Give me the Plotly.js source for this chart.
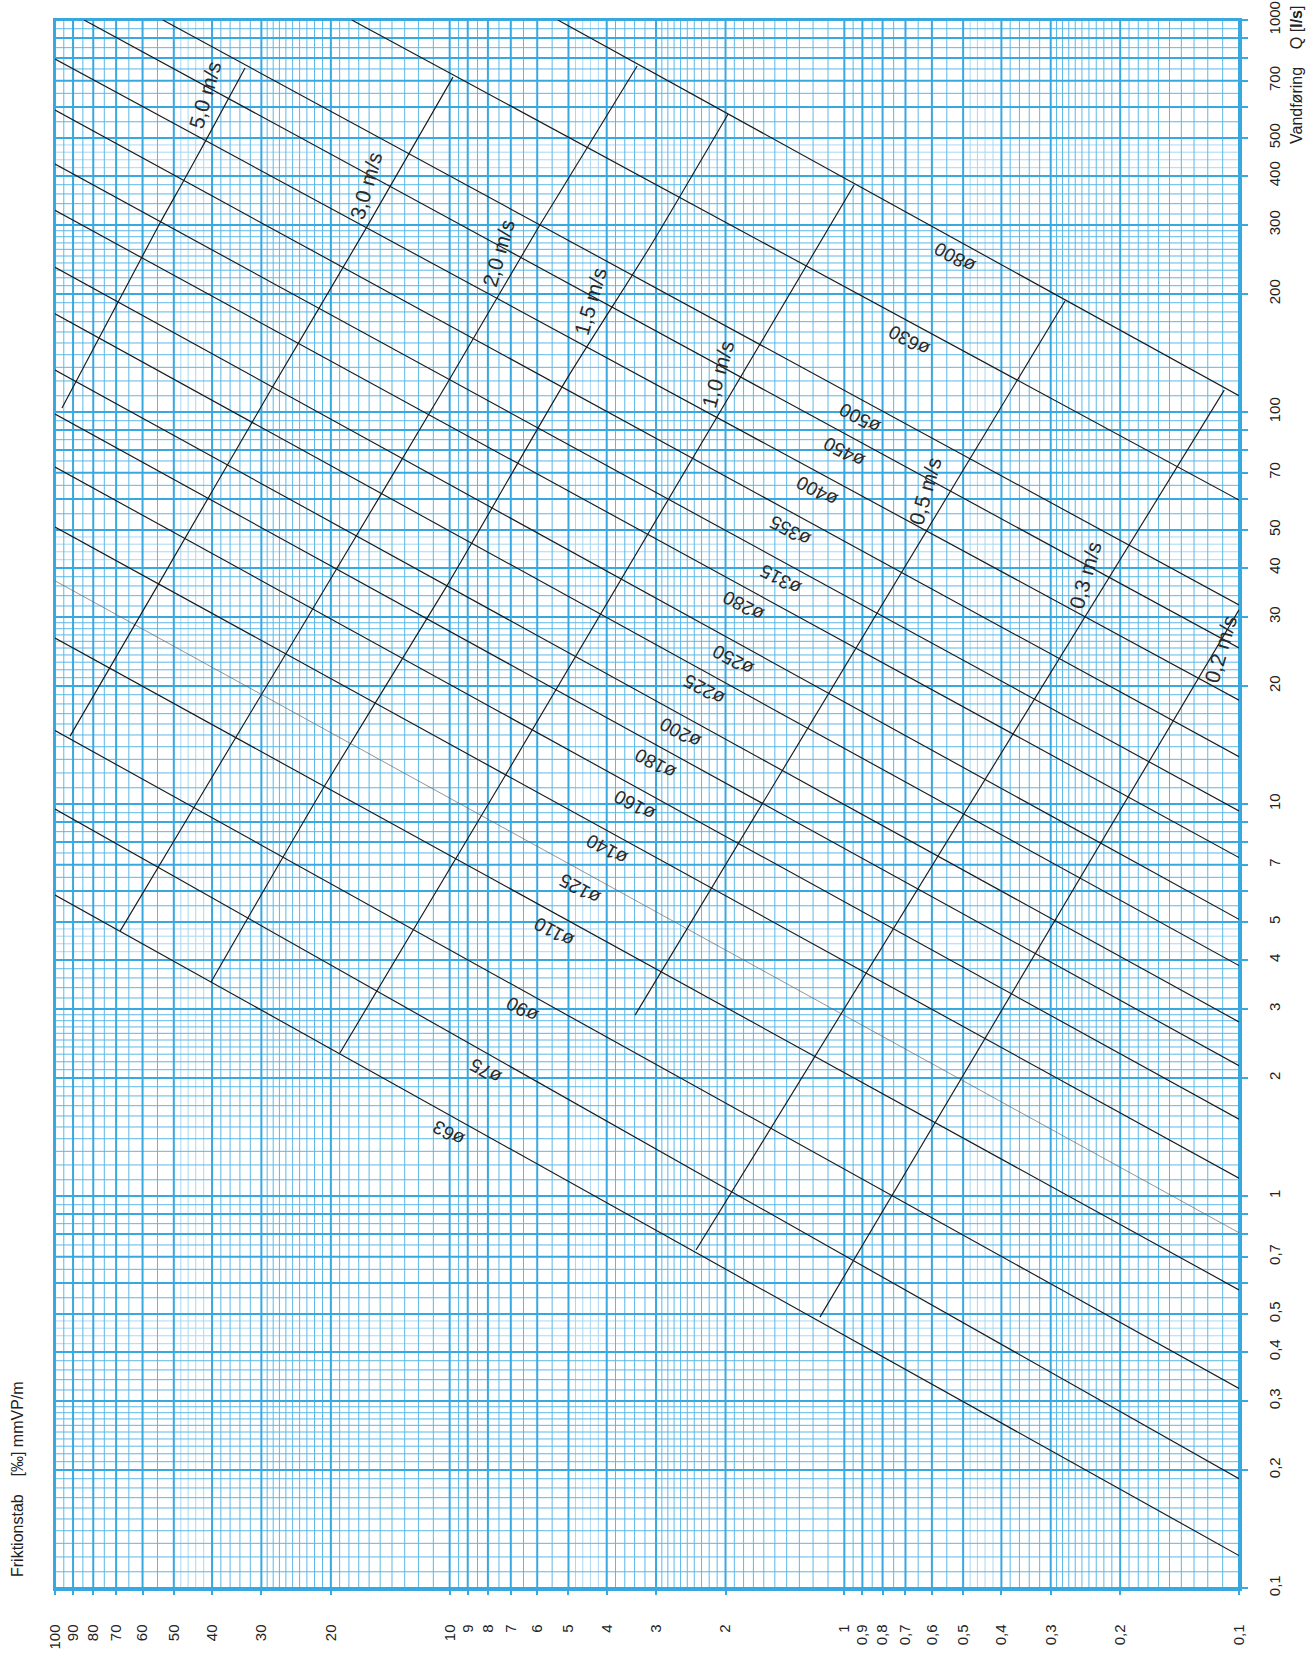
<!DOCTYPE html>
<html><head><meta charset="utf-8">
<script src="https://cdn.plot.ly/plotly-3.0.1.min.js"></script>
<style>body{margin:0;background:#fff}</style>
</head><body><div id="chart" style="width:1307px;height:1654px"></div>
<script>
// ---------------- DATA ----------------
// Pipe lines: friction loss J [‰] and flow Q [l/s] at both ends
const pipeNames  = ['ø63','ø75','ø90','ø110','ø125','ø140','ø160','ø180','ø200','ø225','ø250','ø280','ø315','ø355','ø400','ø450','ø500','ø630','ø800'];
const pipeJStart = [100,100,100,100,100,100,100,100,100,100,100,100,100,100,100,84.4,53.3,17.7,5.32];
const pipeQStart = [5.86,9.71,15.4,26.5,37.1,50.9,72.4,98.8,128,178,234,327,429,589,795,1000,1000,1000,1000];
const pipeJEnd   = [0.1,0.1,0.1,0.1,0.1,0.1,0.1,0.1,0.1,0.1,0.1,0.1,0.1,0.1,0.1,0.1,0.1,0.1,0.1];
const pipeQEnd   = [0.121,0.19,0.323,0.576,0.806,1.11,1.57,2.15,2.78,3.87,5.08,7.3,9.6,13.2,18.4,25.0,32.2,59.6,110];
const pipeThin   = ['ø125'];
const pipeLabelJ = [10.1,8.14,6.56,5.44,4.68,4.0,3.39,3.0,2.61,2.27,1.91,1.80,1.45,1.37,1.17,1.0,0.913,0.686,0.524];

// Velocity lines
const velNames = ['5,0 m/s','3,0 m/s','2,0 m/s','1,5 m/s','1,0 m/s','0,5 m/s','0,3 m/s','0,2 m/s'];
const v50J = [96.0,54.2,47.4,41.7,33.0];        const v50Q = [102.4,303.5,386,488,754];
const v30J = [91.6,54.5,28.2,16.39,9.81];       const v30Q = [14.9,36.6,115.1,291,715];
const v20J = [68.4,44.7,22.3,10.1,5.97,3.35];   const v20Q = [4.74,9.71,31.3,119.3,294.7,763];
const v15J = [40.2,20.9,10.2,5.07,3.11,1.97];   const v15Q = [3.52,10.99,35.8,120.6,263.6,575.8];
const v10J = [18.97,7.24,0.945];                const v10Q = [2.317,11.79,379.4];
const v05J = [3.39,0.276];                      const v05Q = [2.894,192];
const v03J = [2.376,0.109];                     const v03Q = [0.728,113.7];
const v02J = [1.153,0.1];                       const v02Q = [0.491,31.3];
const velLabelQ = [644,379,254,192,125,62.9,38.4,24.9];

// Axis ticks
const jTickVals = [100,90,80,70,60,50,40,30,20,10,9,8,7,6,5,4,3,2,1,0.9,0.8,0.7,0.6,0.5,0.4,0.3,0.2,0.1];
const jTickText = ['100','90','80','70','60','50','40','30','20','10','9','8','7','6','5','4','3','2','1','0,9','0,8','0,7','0,6','0,5','0,4','0,3','0,2','0,1'];
const qTickVals = [1000,900,800,700,600,500,400,300,200,100,90,80,70,60,50,40,30,20,10,9,8,7,6,5,4,3,2,1,0.9,0.8,0.7,0.6,0.5,0.4,0.3,0.2,0.1];
const qTickText = ['1000','','','700','','500','400','300','200','100','','','70','','50','40','30','20','10','','','7','','5','4','3','2','1','','','0,7','','0,5','0,4','0,3','0,2','0,1'];

// Graph-paper subdivisions (mantissas within a decade)
const majorMant  = [1,2,3,4,5,6,7,8,9];
const mediumMant = [1.1,1.2,1.3,1.4,1.5,1.6,1.7,1.8,1.9,2.1,2.2,2.3,2.4,2.5,2.6,2.7,2.8,2.9,3.2,3.4,3.6,3.8,5.5,6.5,7.5,8.5,9.5];
const lightMant  = [4.2,4.4,4.6,4.8];

// ---------------- STYLE ----------------
const BLUE = '#38a8e0', BLUE_MED = '#5cb8e6', BLUE_LIGHT = '#a9d8f2';
const FONT = 'Liberation Sans, Arial, Helvetica, sans-serif';
const J_MIN = 0.1, J_MAX = 100, Q_MIN = 0.1, Q_MAX = 1000;

function gridVals(mants, eMin, eMax, extra){
  const out = [];
  for (let e = eMin; e <= eMax; e++) for (const m of mants) out.push(+(m*Math.pow(10,e)).toPrecision(6));
  if (extra !== undefined) out.push(extra);
  return out;
}
function vLines(vals){ const x=[],y=[]; vals.forEach(v=>{x.push(v,v,null); y.push(Q_MIN,Q_MAX,null);}); return {x,y}; }
function hLines(vals){ const x=[],y=[]; vals.forEach(v=>{x.push(J_MAX,J_MIN,null); y.push(v,v,null);}); return {x,y}; }
function gridTrace(xy, color, width){
  return {x:xy.x, y:xy.y, mode:'lines', line:{color, width}, hoverinfo:'skip', showlegend:false, connectgaps:false};
}

const traces = [];
[[lightMant,BLUE_LIGHT,1],[mediumMant,BLUE_MED,1],[majorMant,BLUE,2]].forEach(([m,c,w])=>{
  traces.push(gridTrace(vLines(gridVals(m,-1,1, m===majorMant?100:undefined)), c, w));
  traces.push(gridTrace(hLines(gridVals(m,-1,2, m===majorMant?1000:undefined)), c, w));
});

// pipe lines
pipeNames.forEach((n,i)=>{
  const thin = pipeThin.includes(n);
  traces.push({x:[pipeJStart[i],pipeJEnd[i]], y:[pipeQStart[i],pipeQEnd[i]], mode:'lines',
    line:{color: thin?'#666':'#1a1a1a', width: thin?0.7:1.15}, hoverinfo:'skip', showlegend:false, name:n});
});
// velocity lines
const velJ = [v50J,v30J,v20J,v15J,v10J,v05J,v03J,v02J];
const velQ = [v50Q,v30Q,v20Q,v15Q,v10Q,v05Q,v03Q,v02Q];
velNames.forEach((n,i)=>{
  traces.push({x:velJ[i], y:velQ[i], mode:'lines', line:{color:'#1a1a1a', width:1.15, shape:'spline', smoothing:0.6},
    hoverinfo:'skip', showlegend:false, name:n});
});

// ---------------- ANNOTATIONS ----------------
const L = Math.log10;
const plotW = 1184, plotH = 1568;
const pxDecX = plotW/3, pxDecY = plotH/4;
const annotations = [];
pipeNames.forEach((n,i)=>{
  const a0 = L(pipeJStart[i]), a1 = L(pipeJEnd[i]);
  const b0 = L(pipeQStart[i]), b1 = L(pipeQEnd[i]);
  const t = (a0 - L(pipeLabelJ[i]))/(a0 - a1);
  const lq = b0 + t*(b1-b0);
  const ang = Math.atan2((b0-b1)*pxDecY, (a0-a1)*pxDecX)*180/Math.PI;
  annotations.push({x:L(pipeLabelJ[i]), y:lq, xref:'x', yref:'y', text:n, showarrow:false,
    textangle: ang-180, font:{family:FONT, size:19, color:'#2a2a2a'}, xshift:0, yshift:-19});
});
velNames.forEach((n,i)=>{
  const J = velJ[i], Q = velQ[i];
  const lq = L(velLabelQ[i]);
  let k = 0;
  while (k < Q.length-2 && L(Q[k+1]) < lq) k++;
  const t = (lq - L(Q[k]))/(L(Q[k+1]) - L(Q[k]));
  const lj = L(J[k]) + t*(L(J[k+1]) - L(J[k]));
  annotations.push({x:lj, y:lq, xref:'x', yref:'y', text:n, showarrow:false, textangle:-74,
    font:{family:FONT, size:21, color:'#2a2a2a'}, xshift: (i===7 ? 5 : -25)});
});
const SP = '\u00a0\u00a0\u00a0\u00a0';
annotations.push({xref:'paper', yref:'paper', x:(17-55)/plotW, y:(1588-1479)/plotH, text:'Friktionstab'+SP+'[‰] mmVP/m',
  showarrow:false, textangle:-90, font:{family:FONT, size:16, color:'#222'}, xanchor:'center', yanchor:'middle'});
annotations.push({xref:'paper', yref:'paper', x:(1296-55)/plotW, y:(1588-75)/plotH, text:'Vandføring'+SP+'Q [<b>l/s</b>]',
  showarrow:false, textangle:-90, font:{family:FONT, size:16, color:'#222'}, xanchor:'center', yanchor:'middle'});

// ---------------- LAYOUT ----------------
const layout = {
  width:1307, height:1654,
  margin:{l:55, r:68, t:20, b:66},
  paper_bgcolor:'#fff', plot_bgcolor:'#fff',
  showlegend:false,
  font:{family:FONT, color:'#222'},
  xaxis:{type:'log', range:[L(J_MAX), L(J_MIN)], autorange:false, showgrid:false, zeroline:false,
    tickmode:'array', tickvals:jTickVals, ticktext:jTickText, tickangle:-90,
    ticks:'outside', ticklen:4, tickwidth:2, tickcolor:BLUE, ticklabelstandoff:24,
    showline:true, linecolor:BLUE, linewidth:2.5, mirror:true,
    tickfont:{family:FONT, size:15, color:'#222'}},
  yaxis:{type:'log', range:[L(Q_MIN), L(Q_MAX)], autorange:false, showgrid:false, zeroline:false, side:'right',
    tickmode:'array', tickvals:qTickVals, ticktext:qTickText, tickangle:-90,
    ticks:'outside', ticklen:6, tickwidth:2, tickcolor:BLUE, ticklabelstandoff:14,
    showline:true, linecolor:BLUE, linewidth:2.5, mirror:true,
    tickfont:{family:FONT, size:15, color:'#222'}},
  annotations
};
Plotly.newPlot('chart', traces, layout, {staticPlot:true, displayModeBar:false});
</script></body></html>
